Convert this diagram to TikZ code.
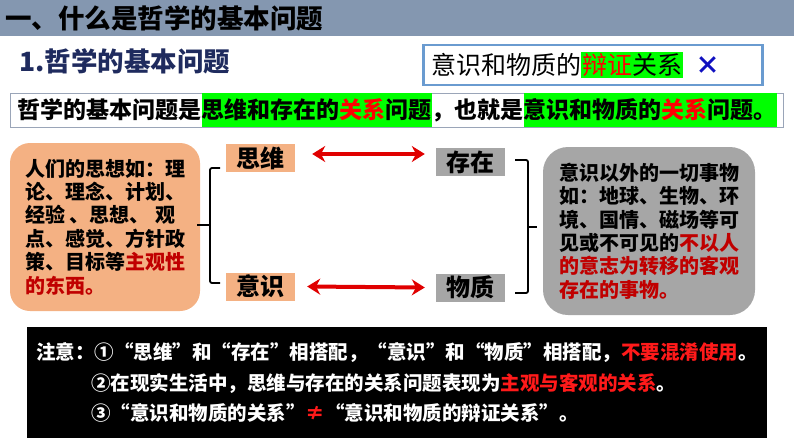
\documentclass[tikz,border=0pt]{standalone}
\usepackage{fontspec}
\setmainfont{Noto Sans CJK SC}
\usetikzlibrary{arrows.meta}

\definecolor{bannerblue}{HTML}{8497B0}
\definecolor{navy}{HTML}{1F2B5E}
\definecolor{hlgreen}{HTML}{00FF00}
\definecolor{peach}{HTML}{F4B183}
\definecolor{boxgray}{HTML}{A6A6A6}
\definecolor{framegray}{HTML}{9AA5B8}
\definecolor{frameblue}{HTML}{6A9BD0}
\definecolor{darkred}{HTML}{C00000}
\definecolor{notered}{HTML}{FF1A1A}
\definecolor{arrowred}{HTML}{E00000}
\definecolor{crossblue}{HTML}{1010C0}

% green marker behind a piece of text
\newcommand{\hl}[1]{{\setlength{\fboxsep}{0pt}\colorbox{hlgreen}{\rule[-8.3pt]{0pt}{34pt}#1}}}

\begin{document}
\begin{tikzpicture}[x=1pt,y=-1pt,
		labelbox/.style={minimum width=69pt,minimum height=28pt,inner sep=0pt,font=\fontsize{24}{24}\selectfont\bfseries},
		infobox/.style={rounded corners=20pt,align=left,inner sep=0pt,font=\fontsize{20}{23.4}\selectfont\bfseries},
		biarrow/.style={{Stealth[length=13pt,width=16pt]}-{Stealth[length=13pt,width=16pt]},line width=4pt,arrowred},
		brace/.style={line width=1.8pt,rounded corners=2pt}]
		\useasboundingbox (0,0) rectangle (794,447);

		% Draw the title banner
		\fill[bannerblue] (0,0) rectangle (794,36);
		\node[anchor=west,inner sep=0pt,font=\fontsize{26.5}{26.5}\selectfont\bfseries] (title) at (5,18) {一、什么是哲学的基本问题};

		% Subtitle and the wrong statement
		\node[anchor=west,inner sep=0pt,text=navy,font=\fontsize{26.5}{26.5}\selectfont\bfseries] (subtitle) at (19,61) {1.哲学的基本问题};
		\node[draw=frameblue,line width=2.5pt,anchor=west,text width=323pt,align=left,inner xsep=8pt,inner ysep=0pt,minimum height=40pt,font=\fontsize{25}{25}\selectfont] (wrongbox) at (422,65) {意识和物质的{\setlength{\fboxsep}{1pt}\colorbox{hlgreen}{\textcolor{red}{辩证}关系}}\hspace{12pt}\textcolor{crossblue}{\bfseries ×}};

		% The basic question line
		\node[draw=framegray,line width=1pt,anchor=west,inner xsep=7pt,inner ysep=0pt,font=\fontsize{23}{23}\selectfont\bfseries] (basicline) at (10,110) {\rule[-8.3pt]{0pt}{34pt}哲学的基本问题是\hl{思维和存在的\textcolor{red}{关系}问题}，也就是\hl{意识和物质的\textcolor{red}{关系}问题。}};

		% Draw the two explanation boxes
		\node[infobox,fill=peach,minimum width=190pt,minimum height=168pt] (thoughtbox) at (105,227) {人们的思想如：理\\论、理念、计划、\\经验\hspace{4pt}、思想、\hspace{6pt}观\\点、感觉、方针政\\策、目标等\textcolor{darkred}{主观性}\\\textcolor{darkred}{的东西。}};
		\node[infobox,fill=boxgray,rounded corners=25pt,minimum width=212pt,minimum height=168pt] (matterbox) at (649,231) {意识以外的一切事物\\如：地球、生物、环\\境、国情、磁场等可\\见或不可见的\textcolor{darkred}{不以人}\\\textcolor{darkred}{的意志为转移的客观}\\\textcolor{darkred}{存在的事物。}};

		% Concept labels
		\node[labelbox,fill=peach] (siwei) at (260.5,158) {思维};
		\node[labelbox,fill=peach] (yishi) at (260.5,286.5) {意识};
		\node[labelbox,fill=boxgray] (cunzai) at (470.5,162) {存在};
		\node[labelbox,fill=boxgray] (wuzhi) at (470.5,287.5) {物质};

		% Draw the arrows
		\draw[biarrow] ([xshift=17pt,yshift=4pt]siwei.east) -- ([xshift=-11pt,yshift=8pt]cunzai.west);
		\draw[biarrow] ([xshift=12pt]yishi.east) -- ([xshift=-11pt]wuzhi.west);

		% Draw the brackets
		\draw[brace] (220,168) -- (210,168) -- (210,283) -- (220,283);
		\draw[brace] (210,225) -- (197,225);
		\draw[brace] (515,160) -- (528,160) -- (528,293) -- (515,293);
		\draw[brace] (528,227) -- (537,227);

		% Notes
		\node[fill=black,text=white,minimum width=740pt,minimum height=111pt,align=left,inner sep=0pt,font=\fontsize{19.5}{30.5}\selectfont\bfseries] (notebox) at (397,382.5) {注意：①“思维”和“存在”相搭配，“意识”和“物质”相搭配，\textcolor{notered}{不要混淆使用}。\\\hspace*{55pt}②在现实生活中，思维与存在的关系问题表现为\textcolor{notered}{主观与客观的关系}。\\\hspace*{55pt}③“意识和物质的关系”\textcolor{notered}{≠}“意识和物质的辩证关系”。};
	\end{tikzpicture}
\end{document}
